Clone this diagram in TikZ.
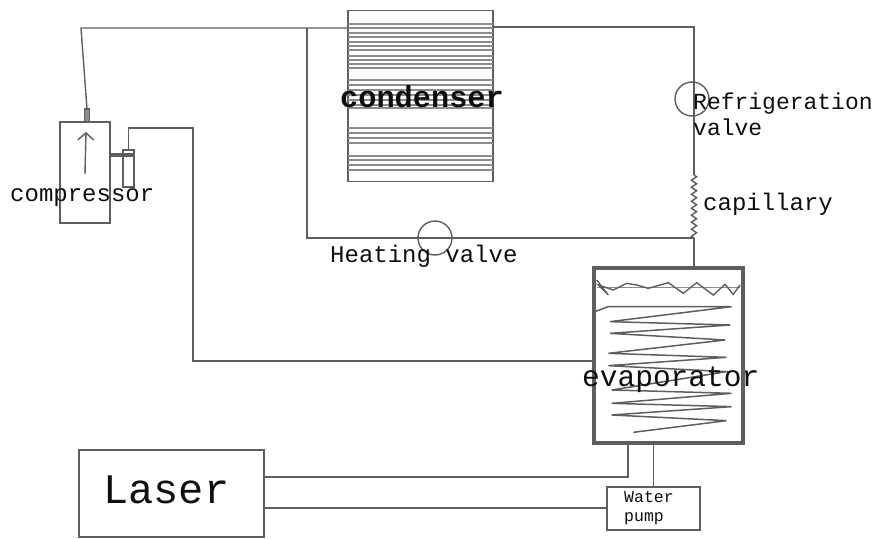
\documentclass[tikz,border=0pt]{standalone}
\usepackage{fontspec}
\setmainfont{Liberation Mono}
\usepackage{xcolor}
\usetikzlibrary{arrows.meta,positioning,decorations.pathmorphing}
\definecolor{pipe}{HTML}{5E5E5E}
\definecolor{fin}{HTML}{8C8C8C}
\definecolor{ink}{HTML}{0E0E0E}
\newcommand{\fsz}[1]{\fontsize{#1}{#1}\selectfont}

\begin{document}
\begin{tikzpicture}[
  x=1pt,y=-1pt,
  unit/.style={draw=pipe,line width=1.5pt,inner sep=0pt,outer sep=0pt},
  valve/.style={circle,draw=pipe,line width=1.4pt,minimum size=34pt,inner sep=0pt},
  tube/.style={draw=pipe,line width=1.4pt},
  label/.style={text=ink,inner sep=0pt,anchor=west,align=left}
]
\useasboundingbox (0,0) rectangle (875,538);
% units
\node[unit,minimum width=145pt,minimum height=171pt] (condenser) at (420.5,96) {};
\node[unit,minimum width=50pt,minimum height=101pt] (compressor) at (85,172.5) {};
\node[unit,minimum width=5pt,minimum height=13pt,anchor=south,fill=fin] (outlet) at (87,122) {};
\node[unit,minimum width=11pt,minimum height=37pt] (tank) at (128.5,168.5) {};
\node[unit,line width=3.5pt,minimum width=149pt,minimum height=175pt] (evaporator) at (668.5,355.5) {};
\node[unit,minimum width=185pt,minimum height=87pt] (laser) at (171.5,493.5) {};
\node[unit,minimum width=93pt,minimum height=43pt] (pump) at (653.5,508.5) {};
\node[valve] (refvalve) at (692,99) {};
\node[valve] (heatvalve) at (435,238) {};
% junction points
\coordinate (start) at (81,28);
\coordinate (split) at (307,28);
\coordinate (corner) at (694,27);
\coordinate (captop) at (694,175);
\coordinate (capbot) at (694,238);
\coordinate (lowleft) at (307,238);
\coordinate (suctop) at (193,128);
\coordinate (sucbot) at (193,361);
\coordinate (lasertop) at (628,477);
\coordinate (laserlow) at (264,508);
% fins of the condenser
\foreach \yy in {24,28,33,37,42,46,50,56,60,64,68,80,85,90,95,100,105,108,128,133,138,143,156,160,165,170}
  \draw[fin,line width=1.7pt] (348,\yy) -- (493,\yy);
% pipes
\draw[tube] (outlet.north) -- (start) -- (split) -- (condenser.west |- split);
\draw[tube] (condenser.east |- corner) -- (corner) -- (captop);
\draw[tube,decorate,decoration={zigzag,segment length=7pt,amplitude=2.6pt}] (captop) -- (capbot);
\draw[tube] (capbot) -- (capbot |- evaporator.north);
\draw[tube] (split) -- (lowleft) -- (capbot);
\draw[tube] (tank.north) -- (tank.north |- suctop) -- (suctop) -- (sucbot) -- (evaporator.west |- sucbot);
\draw[tube] (compressor.east |- 0,154) -- (tank.east |- 0,154);
\draw[tube] (compressor.east |- 0,156) -- (tank.east |- 0,156);
\draw[tube] (laser.east |- lasertop) -- (lasertop) -- (lasertop |- evaporator.south);
\draw[tube] (laserlow) -- (pump.west |- laserlow);
\draw[tube] (pump.north) -- (pump.north |- evaporator.south);
\draw[tube,-{Straight Barb[length=7pt,width=16pt]}] (85,174) -- (86,132);
% coils of the evaporator
\begin{scope}[shift={(580,255)},x=0.3333pt,y=-0.3333pt]
\draw[fin,line width=1.2pt] (50,97) -- (480,97);
\draw[pipe,line width=1.4pt] (50,75) -- (85,120) -- (55,90) -- (100,105) -- (140,85) -- (170,90)
  -- (205,100) -- (265,83) -- (310,115) -- (350,83) -- (400,120) -- (435,88) -- (460,118) -- (480,90);
\draw[pipe,line width=1.5pt] (45,170) -- (85,155) -- (455,155) -- (90,200) -- (450,210) -- (90,235)
  -- (435,255) -- (85,295) -- (440,307) -- (85,332) -- (440,350) -- (95,405) -- (455,415) -- (95,445)
  -- (455,455) -- (95,480) -- (440,497) -- (160,532);
\end{scope}
% labels
\node[label,font=\fsz{30.3}\bfseries] (condenserlabel) at (340,97) {condenser};
\node[label,font=\fsz{24}] (compressorlabel) at (10,198) {compressor};
\node[label,font=\fsz{23}] (reflabel) at (693,114) {Refrigeration\\[3pt]valve};
\node[label,font=\fsz{24}] (caplabel) at (703,204) {capillary};
\node[label,font=\fsz{24}] (heatlabel) at (330,256) {Heating valve};
\node[label,font=\fsz{29.5}] (evaplabel) at (582,380) {evaporator};
\node[label,font=\fsz{42}] (laserlabel) at (103,490) {Laser};
\node[label,font=\fsz{16.5}] (pumplabel) at (624,508) {Water\\[2pt]pump};
\end{tikzpicture}
\end{document}
